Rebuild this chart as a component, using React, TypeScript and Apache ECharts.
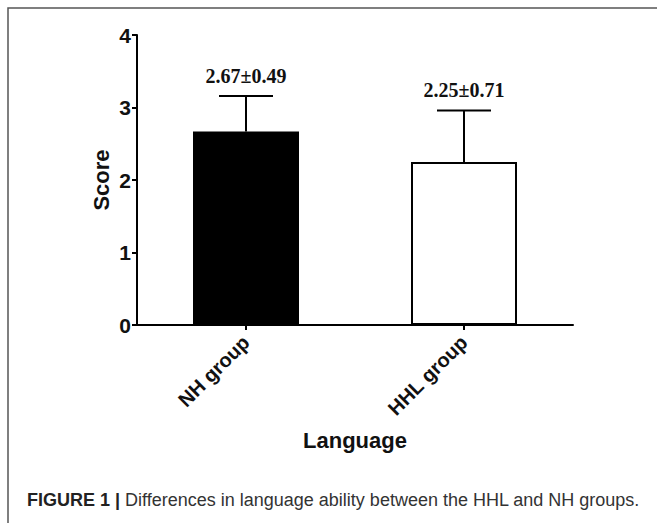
import React, { useEffect, useRef } from "react";
import * as echarts from "echarts";

const categories = ["NH group", "HHL group"];
const means = [2.67, 2.25];
const sds = [0.49, 0.71];
const barColors = ["#000000", "#ffffff"];
const yTicks = [0, 1, 2, 3, 4];
const yAxisName = "Score";
const xAxisName = "Language";
const captionBold = "FIGURE 1 |";
const captionText = " Differences in language ability between the HHL and NH groups.";

export default function App() {
  const ref = useRef<HTMLDivElement>(null);
  useEffect(() => {
    if (!ref.current) return;
    const chart = echarts.init(ref.current, null, { renderer: "svg" });
    const errData = categories.map((c, i) => [i, means[i], sds[i]]);
    chart.setOption({
      animation: false,
      backgroundColor: "#ffffff",
      grid: { left: 137, top: 35, width: 436, height: 290, containLabel: false },
      xAxis: {
        type: "category",
        data: categories,
        name: xAxisName,
        nameLocation: "middle",
        nameGap: 104,
        nameTextStyle: { fontFamily: "Liberation Sans, Arial", fontWeight: "bold", fontSize: 22, color: "#111" },
        axisLine: { lineStyle: { color: "#000", width: 2 } },
        axisTick: { show: true, alignWithLabel: true, length: 5, lineStyle: { color: "#000", width: 2 } },
        axisLabel: {
          rotate: 45,
          margin: 14,
          fontFamily: "Liberation Sans, Arial",
          fontWeight: "bold",
          fontSize: 20,
          color: "#111",
        },
        splitLine: { show: false },
      },
      yAxis: {
        type: "value",
        min: yTicks[0],
        max: yTicks[yTicks.length - 1],
        interval: 1,
        name: yAxisName,
        nameLocation: "middle",
        nameGap: 25,
        nameMoveOverlap: false,
        nameRotate: 90,
        nameTextStyle: { fontFamily: "Liberation Sans, Arial", fontWeight: "bold", fontSize: 22, color: "#111" },
        axisLine: { show: true, lineStyle: { color: "#000", width: 2 } },
        axisTick: { show: true, length: 5, lineStyle: { color: "#000", width: 2 } },
        axisLabel: {
          margin: 6,
          fontFamily: "Liberation Sans, Arial",
          fontWeight: "bold",
          fontSize: 21,
          color: "#111",
        },
        splitLine: { show: false },
      },
      series: [
        {
          type: "bar",
          barWidth: 106,
          data: means.map((v, i) => ({
            value: v,
            itemStyle: { color: barColors[i], borderColor: "#000", borderWidth: 2 },
          })),
        },
        {
          type: "custom",
          data: errData,
          z: 5,
          renderItem: (params: any, api: any) => {
            const idx = api.value(0);
            const m = api.value(1);
            const sd = api.value(2);
            const base = api.coord([idx, m]);
            const top = api.coord([idx, m + sd]);
            const half = 27;
            return {
              type: "group",
              children: [
                {
                  type: "line",
                  shape: { x1: base[0], y1: base[1], x2: top[0], y2: top[1] },
                  style: { stroke: "#000", lineWidth: 2 },
                },
                {
                  type: "line",
                  shape: { x1: top[0] - half, y1: top[1], x2: top[0] + half, y2: top[1] },
                  style: { stroke: "#000", lineWidth: 2 },
                },
                {
                  type: "text",
                  x: top[0],
                  y: top[1] - 10,
                  style: {
                    text: m.toFixed(2) + "±" + sd.toFixed(2),
                    fontFamily: "Liberation Serif, Times New Roman",
                    fontWeight: "bold",
                    fontSize: 20,
                    fill: "#111",
                    align: "center",
                    verticalAlign: "bottom",
                  },
                },
              ],
            };
          },
        },
      ],
      graphic: [
        {
          type: "polyline",
          shape: { points: [[8, 523], [8, 8], [657, 8]] },
          style: { stroke: "#555", lineWidth: 1.5, fill: null },
          silent: true,
        },
        {
          type: "text",
          left: 27,
          top: 491,
          style: {
            text: "{b|" + captionBold + "}{r|" + captionText + "}",
            rich: {
              b: { fontFamily: "Liberation Sans, Arial", fontWeight: "bold", fontSize: 18, fill: "#222" },
              r: { fontFamily: "Liberation Sans, Arial", fontSize: 18, fill: "#333" },
            },
          },
        },
      ],
    });
    return () => chart.dispose();
  }, []);
  return (
    <div
      ref={ref}
      style={{ position: "absolute", left: 0, top: 0, width: 657, height: 523 }}
    />
  );
}
